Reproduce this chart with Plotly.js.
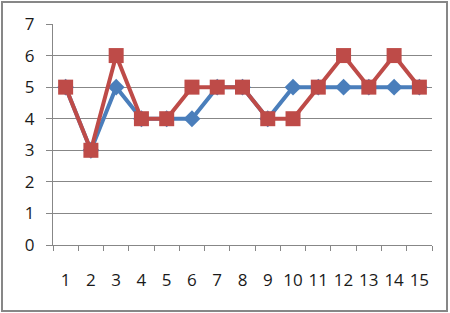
<!DOCTYPE html>
<html><head><meta charset="utf-8">
<script src="https://cdn.plot.ly/plotly-3.0.1.min.js"></script>
<style>
html,body{margin:0;padding:0;background:#fff;}
#wrap{position:absolute;left:1px;top:1px;width:447px;height:311px;border:2px solid #878787;box-sizing:border-box;}
#chart{width:443px;height:307px;}
</style></head><body>
<div id="wrap"><div id="chart"></div></div>
<script>
const categories = ['1','2','3','4','5','6','7','8','9','10','11','12','13','14','15'];
const seriesBlue = [5,3,5,4,4,4,5,5,4,5,5,5,5,5,5];
const seriesRed  = [5,3,6,4,4,5,5,5,4,4,5,6,5,6,5];
const yTicks = [0,1,2,3,4,5,6,7];

const traces = [
  {x: categories, y: seriesBlue, type:'scatter', mode:'lines+markers', cliponaxis:false,
   line:{color:'#4A7EBB', width:4}, marker:{symbol:'diamond', size:13, color:'#4A7EBB'}},
  {x: categories, y: seriesRed, type:'scatter', mode:'lines+markers', cliponaxis:false,
   line:{color:'#BE4B48', width:4}, marker:{symbol:'square', size:15, color:'#BE4B48'}}
];
const layout = {
  width:443, height:307,
  margin:{l:50, r:14, t:21, b:65},
  showlegend:false,
  paper_bgcolor:'#fff', plot_bgcolor:'#fff',
  font:{family:'Open Sans, sans-serif', size:17, color:'#1a1a1a'},
  xaxis:{type:'category', range:[-0.5, categories.length-0.5], tickson:'boundaries', ticks:'outside', ticklen:5, tickcolor:'#878787',
         showline:true, linecolor:'#878787', linewidth:1, showgrid:false, zeroline:false, automargin:false,
         tickangle:0, ticklabelstandoff:20, tickfont:{size:17}},
  yaxis:{range:[0,7], tickvals:yTicks, ticks:'outside', ticklen:6, tickcolor:'#878787',
         showline:true, linecolor:'#878787', linewidth:1, showgrid:true, gridcolor:'#878787', gridwidth:1,
         zeroline:false, automargin:false, ticklabelstandoff:8, tickfont:{size:17}}
};
Plotly.newPlot('chart', traces, layout, {displayModeBar:false, staticPlot:true});
</script></body></html>
